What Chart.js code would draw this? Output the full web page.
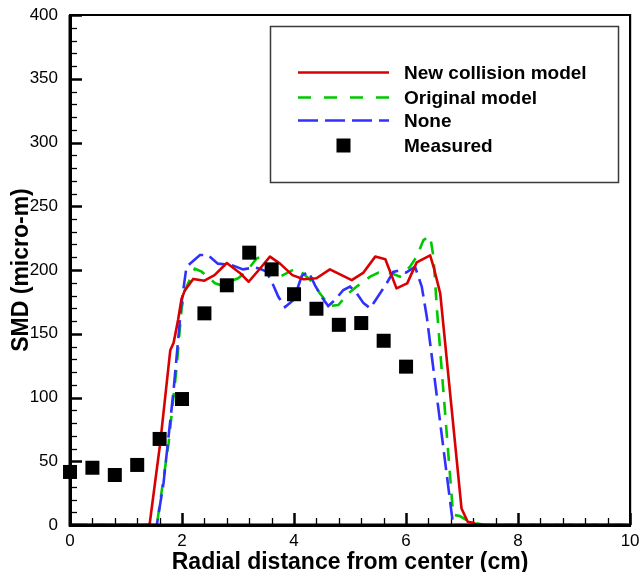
<!DOCTYPE html>
<html>
<head>
<meta charset="utf-8">
<script src="https://cdn.jsdelivr.net/npm/chart.js@4"></script>
<style>
html,body{margin:0;padding:0;background:#fff;}
#wrap{width:640px;height:572px;}
</style>
</head>
<body>
<div id="wrap"><canvas id="c" width="640" height="572"></canvas></div>
<script>
// ---------- data ----------
const newModelX = [0, 1.42, 1.61, 1.79, 1.85, 1.93, 1.99, 2.05, 2.2, 2.4, 2.58, 2.8, 3.05, 3.19, 3.39, 3.57, 3.75, 3.97, 4.17, 4.4, 4.64, 5.03, 5.24, 5.45, 5.63, 5.83, 6.02, 6.19, 6.43, 6.5, 6.61, 6.99, 7.1, 7.2, 7.27, 10];
const newModelY = [0, 0, 64, 137, 143, 161, 177, 184, 193, 191.6, 196, 205.5, 197, 190.8, 201, 210.5, 205, 196, 192.7, 193.5, 200.5, 192, 198, 210.5, 208.5, 185.6, 189.5, 206, 211.5, 201, 181.7, 13, 2.6, 1.8, 0, 0];

const originalX = [0, 1.55, 1.76, 1.9, 1.99, 2.05, 2.23, 2.35, 2.59, 2.7, 3.0, 3.15, 3.33, 3.42, 3.63, 3.75, 4.02, 4.17, 4.35, 4.46, 4.64, 4.79, 4.97, 5.12, 5.36, 5.51, 5.74, 5.89, 6.07, 6.19, 6.31, 6.43, 6.49, 6.55, 6.84, 6.96, 7.08, 7.26, 7.4, 10];
const originalY = [0, 0, 64, 122, 169, 184, 201, 198.7, 189.6, 188, 193.5, 198.7, 209, 210.5, 196, 194.8, 201, 197, 189.6, 181.7, 171.8, 172.5, 181.7, 187, 194.8, 198, 197.4, 194.8, 202.6, 210.5, 223.5, 226.5, 210, 170, 8, 7, 3.9, 1.3, 0, 0];

const noneX = [0, 1.55, 1.67, 1.85, 1.99, 2.08, 2.32, 2.46, 2.64, 2.88, 3.09, 3.3, 3.39, 3.51, 3.63, 3.72, 3.84, 3.99, 4.14, 4.26, 4.375, 4.49, 4.61, 4.73, 4.88, 5.0, 5.12, 5.24, 5.36, 5.51, 5.66, 5.77, 5.86, 6.0, 6.16, 6.28, 6.37, 6.84, 10];
const noneY = [0, 0, 33, 106, 174, 202.6, 211.8, 211.8, 205, 204, 200.5, 202, 201, 198.7, 188, 179, 171, 176.5, 195.5, 198.7, 188, 179, 171.8, 176.5, 184.3, 187, 181.7, 174, 170, 180, 190, 198.5, 199.5, 198, 202.6, 187, 163.4, 0, 0];

const measuredX = [0, 0.4, 0.8, 1.2, 1.6, 2.0, 2.4, 2.8, 3.2, 3.6, 4.0, 4.4, 4.8, 5.2, 5.6, 6.0];
const measuredY = [41.6, 44.9, 39.2, 47.1, 67.5, 98.8, 166, 188, 213.6, 200.5, 181, 169.6, 157, 158.4, 144.5, 124.2];

const seriesLabels = ['New collision model', 'Original model', 'None', 'Measured'];
const xAxisTitle = 'Radial distance from center (cm)';
const yAxisTitle = 'SMD (micro-m)';
const xRange = [0, 10];
const yRange = [0, 400];
const xMajorStep = 2, xMinorStep = 0.4;
const yMajorStep = 50, yMinorStep = 10;

// ---------- helpers ----------
const pts = (xs, ys) => xs.map((x, i) => ({x: x, y: ys[i]}));
const FONT = "'Liberation Sans', Arial, Helvetica, sans-serif";

// inner tick marks + frame
const frameTicks = {
  id: 'frameTicks',
  beforeDatasetsDraw(chart) {
    const {ctx, chartArea: a, scales: {x, y}} = chart;
    ctx.save();
    ctx.strokeStyle = '#000';
    const nx = Math.round((xRange[1] - xRange[0]) / xMinorStep);
    for (let i = 0; i <= nx; i++) {
      const v = xRange[0] + i * xMinorStep;
      const major = Math.abs(v / xMajorStep - Math.round(v / xMajorStep)) < 1e-6;
      const px = Math.round(x.getPixelForValue(v)) + 0.5;
      ctx.lineWidth = major ? 2.5 : 1.3;
      ctx.beginPath();
      ctx.moveTo(px, a.bottom);
      ctx.lineTo(px, a.bottom - (major ? 12 : 7));
      ctx.stroke();
    }
    const ny = Math.round((yRange[1] - yRange[0]) / yMinorStep);
    for (let i = 0; i <= ny; i++) {
      const v = yRange[0] + i * yMinorStep;
      const major = (v % yMajorStep) === 0;
      const py = Math.round(y.getPixelForValue(v)) + 0.5;
      ctx.lineWidth = major ? 2.5 : 1.3;
      ctx.beginPath();
      ctx.moveTo(a.left, py);
      ctx.lineTo(a.left + (major ? 12 : 7), py);
      ctx.stroke();
    }
    ctx.lineWidth = 2.2;
    ctx.beginPath();
    ctx.moveTo(a.left, a.top);
    ctx.lineTo(a.right, a.top);
    ctx.lineTo(a.right, a.bottom);
    ctx.stroke();
    ctx.restore();
  },
  afterDatasetsDraw(chart) {
    const {ctx, chartArea: a} = chart;
    ctx.save();
    ctx.strokeStyle = '#000';
    ctx.lineWidth = 3;
    ctx.beginPath();
    ctx.moveTo(a.left, a.top);
    ctx.lineTo(a.left, a.bottom);
    ctx.lineTo(a.right + 1, a.bottom);
    ctx.stroke();
    ctx.restore();
  }
};

// boxed legend inside plot
const boxLegend = {
  id: 'boxLegend',
  afterDraw(chart) {
    const ctx = chart.ctx;
    const box = {l: 270, t: 26, r: 618, b: 182};
    const rowY = [72.5, 97.5, 120.5, 145.5];
    const lineL = 298, lineR = 389, textX = 404;
    ctx.save();
    ctx.fillStyle = '#fff';
    ctx.fillRect(box.l, box.t, box.r - box.l, box.b - box.t);
    ctx.strokeStyle = '#3a3a3a';
    ctx.lineWidth = 1.5;
    ctx.strokeRect(box.l + 0.5, box.t + 0.5, box.r - box.l, box.b - box.t);
    chart.data.datasets.forEach((ds, i) => {
      const yy = rowY[i];
      if (ds.showLine) {
        ctx.strokeStyle = ds.borderColor;
        ctx.lineWidth = ds.borderWidth;
        ctx.setLineDash(ds.legendDash || []);
        ctx.beginPath();
        ctx.moveTo(lineL, yy);
        ctx.lineTo(lineR, yy);
        ctx.stroke();
        ctx.setLineDash([]);
      } else {
        const s = 14;
        ctx.fillStyle = ds.backgroundColor;
        ctx.fillRect((lineL + lineR) / 2 - s / 2, yy - s / 2, s, s);
      }
      ctx.fillStyle = '#000';
      ctx.font = 'bold 19px ' + FONT;
      ctx.textBaseline = 'middle';
      ctx.textAlign = 'left';
      ctx.fillText(ds.label, textX, yy + 1);
    });
    ctx.restore();
  }
};

const chart = new Chart(document.getElementById('c'), {
  type: 'scatter',
  data: {
    datasets: [
      {
        label: seriesLabels[0], data: pts(newModelX, newModelY), showLine: true,
        borderColor: '#d80000', backgroundColor: '#d80000', borderWidth: 2.6,
        pointRadius: 0, borderJoinStyle: 'round', order: 1
      },
      {
        label: seriesLabels[1], data: pts(originalX, originalY), showLine: true,
        borderColor: '#00c800', backgroundColor: '#00c800', borderWidth: 2.6,
        borderDash: [13, 10], legendDash: [13, 13], pointRadius: 0, order: 3
      },
      {
        label: seriesLabels[2], data: pts(noneX, noneY), showLine: true,
        borderColor: '#3030ff', backgroundColor: '#3030ff', borderWidth: 2.6,
        borderDash: [18, 7], legendDash: [20, 7], pointRadius: 0, order: 2
      },
      {
        label: seriesLabels[3], data: pts(measuredX, measuredY), showLine: false,
        pointStyle: 'rect', pointRadius: 9.9, pointHoverRadius: 9.9, clip: false,
        backgroundColor: '#000', borderColor: '#000', borderWidth: 0, order: 0
      }
    ]
  },
  options: {
    responsive: false,
    animation: false,
    devicePixelRatio: 1,
    layout: {padding: {top: 15, right: 9, left: 0, bottom: 0}},
    plugins: {legend: {display: false}, tooltip: {enabled: false}},
    scales: {
      x: {
        type: 'linear', min: xRange[0], max: xRange[1],
        grid: {display: false, drawTicks: false},
        border: {display: true, color: '#000', width: 3},
        ticks: {stepSize: xMajorStep, padding: 6, color: '#000', font: {family: FONT, size: 17}},
        title: {display: true, text: xAxisTitle, color: '#000', padding: {top: 0, bottom: 0},
                font: {family: FONT, size: 23, weight: 'bold', lineHeight: 0.8}},
        afterFit(s) { s.height = 47; s.paddingLeft = 0; s.paddingRight = 0; }
      },
      y: {
        type: 'linear', min: yRange[0], max: yRange[1],
        grid: {display: false, drawTicks: false},
        border: {display: true, color: '#000', width: 3},
        ticks: {stepSize: yMajorStep, padding: 12, color: '#000', font: {family: FONT, size: 17}},
        title: {display: true, text: yAxisTitle, color: '#000', padding: {top: 10, bottom: 0},
                font: {family: FONT, size: 23, weight: 'bold', lineHeight: 1}},
        afterFit(s) { s.width = 70; s.paddingTop = 0; s.paddingBottom = 0; }
      }
    }
  },
  plugins: [frameTicks, boxLegend]
});
</script>
</body>
</html>
